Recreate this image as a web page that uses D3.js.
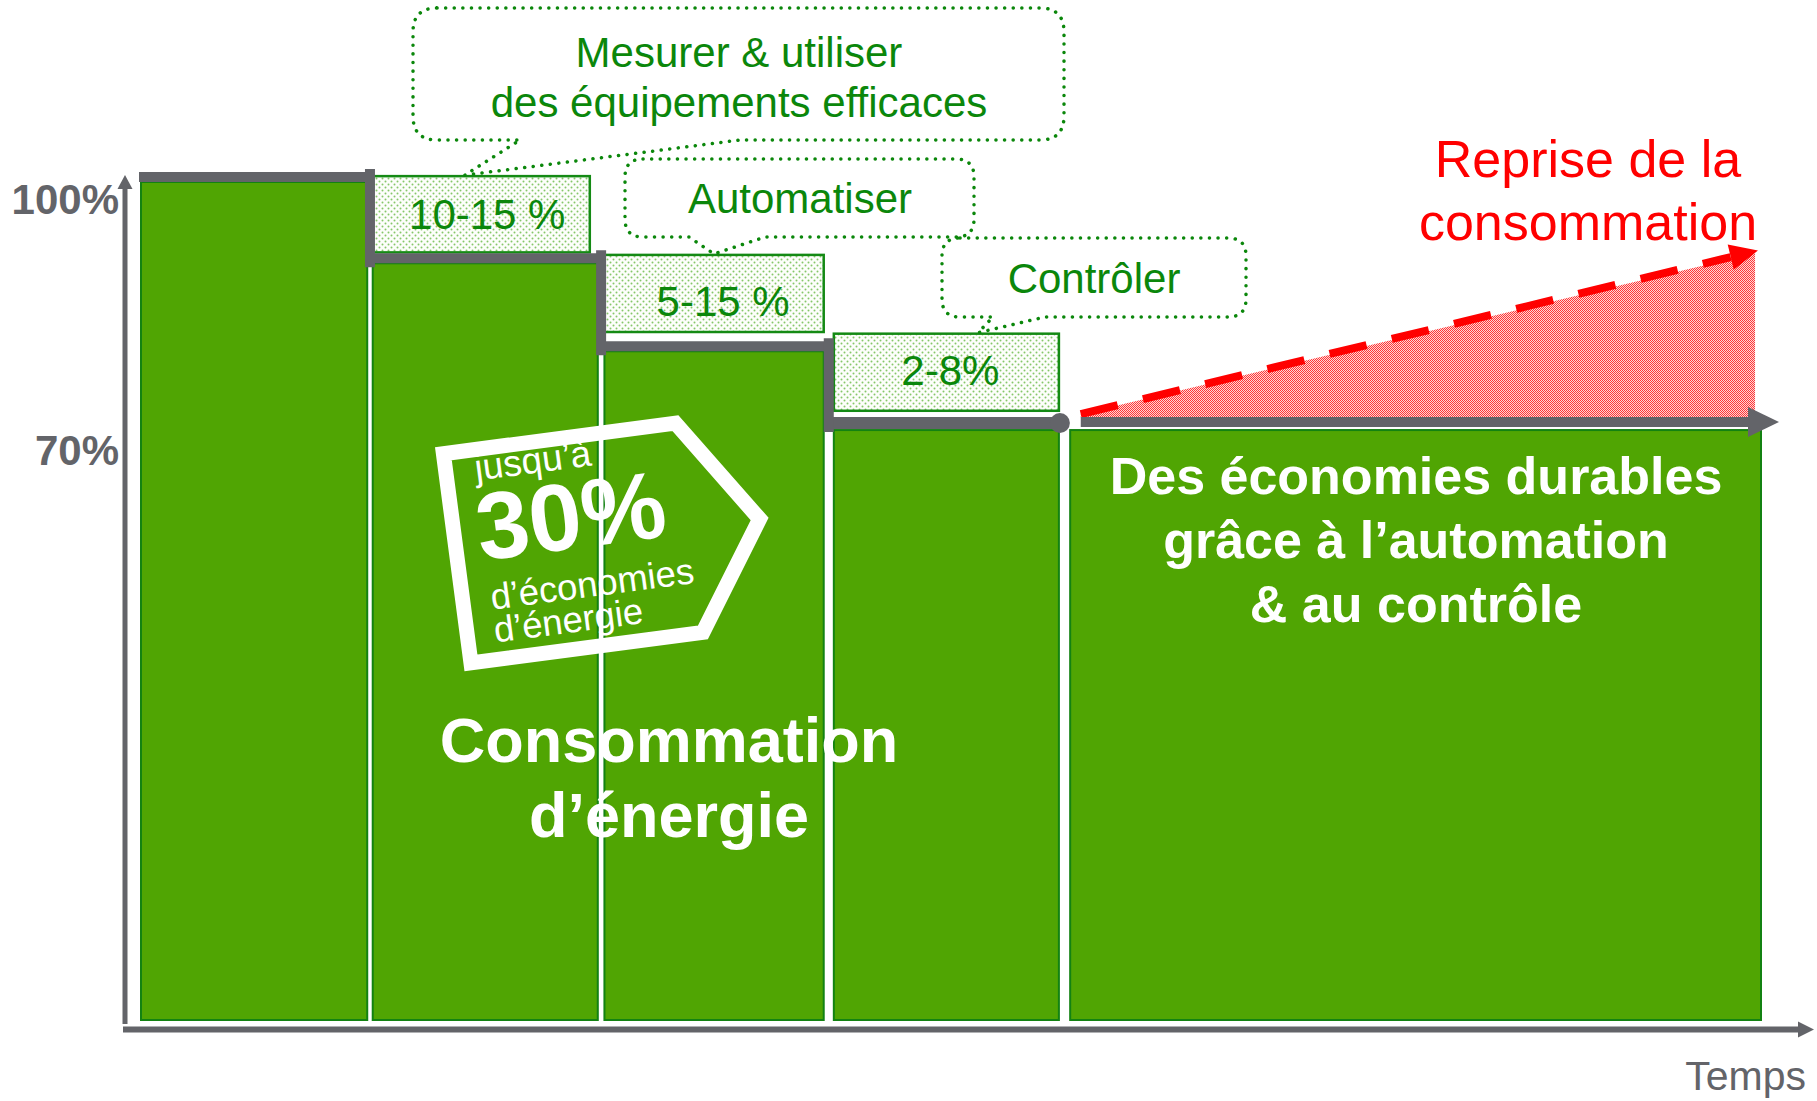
<!DOCTYPE html>
<html>
<head>
<meta charset="utf-8">
<script src="https://cdn.jsdelivr.net/npm/d3@7"></script>
<style>
  body { margin: 0; background: #fff; }
  svg text { font-family: "Liberation Sans", Arial, sans-serif; }
</style>
</head>
<body>
<script>
// Données du graphique
const periods = ["Référence", "Mesurer", "Automatiser", "Contrôler", "Durable"];
const periodStart = [0, 1, 2, 2.99, 4.01];
const periodEnd = [0.985, 1.98, 2.955, 3.97, 7];
const consumption = [100, 90.3, 79.8, 70.4, 70.4];

const savingLabels = ["10-15 %", "5-15 %", "2-8%"];
const savingTop = [100.7, 91.3, 81.9];
const savingBottom = [91.6, 82.1, 72.7];
const actionLines = [["Mesurer & utiliser", "des équipements efficaces"], ["Automatiser"], ["Contrôler"]];

const yTicks = [100, 70];
const yTickLabels = ["100%", "70%"];

const reboundTime = [4.06, 6.97];
const reboundValue = [72.3, 91.5];

// Mise en page
const width = 1817;
const height = 1101;
const green = "#50a503";
const darkGreen = "#138212";
const textGreen = "#0b870b";
const grey = "#636469";
const red = "#ff0000";
const labelShift = [[2, 15], [9, 23], [4, 13]]; // décalage des libellés dans les boîtes

const x = d3.scaleLinear().domain([0, 7]).range([140, 1762]);
const y = d3.scaleLinear().domain([0, 100]).range([1020, 182]);

const svg = d3.select("body").append("svg")
    .attr("width", width)
    .attr("height", height);

// Motifs (pointillés verts et rouges)
const defs = svg.append("defs");
const gp = defs.append("pattern")
    .attr("id", "dotsGreen")
    .attr("width", 6).attr("height", 6)
    .attr("patternUnits", "userSpaceOnUse");
gp.append("rect").attr("width", 6).attr("height", 6).attr("fill", "#fdfefb");
gp.append("circle").attr("cx", 1.5).attr("cy", 1.5).attr("r", 1).attr("fill", "#86c769");
gp.append("circle").attr("cx", 4.5).attr("cy", 4.5).attr("r", 1).attr("fill", "#86c769");

const rp = defs.append("pattern")
    .attr("id", "dotsRed")
    .attr("width", 2).attr("height", 2)
    .attr("patternUnits", "userSpaceOnUse");
rp.append("rect").attr("width", 2).attr("height", 2).attr("fill", "#ffd6d6");
rp.append("rect").attr("width", 1).attr("height", 1).attr("fill", "#ff3838");
rp.append("rect").attr("x", 1).attr("y", 1).attr("width", 1).attr("height", 1).attr("fill", "#ff3838");

// Barres de consommation
svg.selectAll(".bar")
    .data(periods)
    .enter().append("rect")
    .attr("class", "bar")
    .attr("x", (d, i) => x(periodStart[i]) + 1)
    .attr("y", (d, i) => y(consumption[i]))
    .attr("width", (d, i) => x(periodEnd[i]) - x(periodStart[i]) - 2)
    .attr("height", (d, i) => y(0) - y(consumption[i]))
    .attr("fill", green)
    .attr("stroke", darkGreen)
    .attr("stroke-width", 2);

// Boîtes d'économies
const boxes = svg.selectAll(".saving")
    .data(savingLabels)
    .enter().append("g")
    .attr("class", "saving");

boxes.append("rect")
    .attr("x", (d, i) => x(periodStart[i + 1]) + 1)
    .attr("y", (d, i) => y(savingTop[i]))
    .attr("width", (d, i) => x(periodEnd[i + 1]) - x(periodStart[i + 1]) - 2 - (i === 0 ? 8 : 0))
    .attr("height", (d, i) => y(savingBottom[i]) - y(savingTop[i]))
    .attr("fill", "url(#dotsGreen)")
    .attr("stroke", "#148a14")
    .attr("stroke-width", 2.5);

boxes.append("text")
    .attr("x", (d, i) => (x(periodStart[i + 1]) + x(periodEnd[i + 1])) / 2 + labelShift[i][0])
    .attr("y", (d, i) => (y(savingTop[i]) + y(savingBottom[i])) / 2 + labelShift[i][1])
    .attr("text-anchor", "middle")
    .attr("font-size", 42)
    .attr("fill", textGreen)
    .text(d => d);

// Ligne en escalier grise
const lineY = consumption.map((v, i) => y(v) - (i >= 3 ? 7 : 5));
const gapX = [0, 1, 2].map(i => x((periodEnd[i] + periodStart[i + 1]) / 2));
for (let i = 0; i < 4; i++) {
    const x0 = i === 0 ? x(periodStart[0]) - 1 : gapX[i - 1];
    const x1 = i === 3 ? x(periodEnd[3]) : gapX[i];
    svg.append("line")
        .attr("x1", x0).attr("x2", x1)
        .attr("y1", lineY[i]).attr("y2", lineY[i])
        .attr("stroke", grey)
        .attr("stroke-width", i === 3 ? 12 : 10);
}
gapX.forEach((gx, i) => {
    svg.append("line")
        .attr("x1", gx).attr("x2", gx)
        .attr("y1", lineY[i] - 8).attr("y2", lineY[i + 1] + 9)
        .attr("stroke", grey)
        .attr("stroke-width", 10);
});
svg.append("circle")
    .attr("cx", x(periodEnd[3]))
    .attr("cy", lineY[3])
    .attr("r", 10)
    .attr("fill", grey);

// Reprise de la consommation (zone rouge)
const r0 = [x(reboundTime[0]), y(reboundValue[0])];
const r1 = [x(reboundTime[1]), y(reboundValue[1])];
const baseY = y(consumption[4]) - 12;
svg.append("path")
    .attr("d", `M${r0[0]},${baseY} L${r0[0]},${r0[1]} L${r1[0]},${r1[1]} L${r1[0]},${baseY} Z`)
    .attr("fill", "url(#dotsRed)");

const ang = Math.atan2(r1[1] - r0[1], r1[0] - r0[0]);
const tip = [r1[0] + 3 * Math.cos(ang), r1[1] + 3 * Math.sin(ang) - 2];
const headLen = 28, headHalf = 13;
const hb = [tip[0] - headLen * Math.cos(ang), tip[1] - headLen * Math.sin(ang)];
svg.append("line")
    .attr("x1", r0[0]).attr("y1", r0[1])
    .attr("x2", hb[0]).attr("y2", hb[1])
    .attr("stroke", red)
    .attr("stroke-width", 8)
    .attr("stroke-dasharray", "38 26");
svg.append("path")
    .attr("d", `M${tip[0]},${tip[1]} L${hb[0] - headHalf * Math.sin(ang)},${hb[1] + headHalf * Math.cos(ang)} L${hb[0] + headHalf * Math.sin(ang)},${hb[1] - headHalf * Math.cos(ang)} Z`)
    .attr("fill", red);

// Flèche grise de la période durable
const arrowY = y(consumption[4]) - 8;
const arrowTip = x(periodEnd[4]) + 17;
svg.append("line")
    .attr("x1", x(reboundTime[0])).attr("x2", arrowTip - 30)
    .attr("y1", arrowY).attr("y2", arrowY)
    .attr("stroke", grey)
    .attr("stroke-width", 10);
svg.append("path")
    .attr("d", `M${arrowTip},${arrowY} L${arrowTip - 31},${arrowY - 15} L${arrowTip - 31},${arrowY + 15} Z`)
    .attr("fill", grey);

// Axes
const axisY = 1029.5;
svg.append("line")
    .attr("x1", 125).attr("x2", 125)
    .attr("y1", 1024).attr("y2", 186)
    .attr("stroke", grey).attr("stroke-width", 5);
svg.append("path")
    .attr("d", "M125,175 L117.5,189 L132.5,189 Z")
    .attr("fill", grey);
svg.append("line")
    .attr("x1", 123).attr("x2", 1800)
    .attr("y1", axisY).attr("y2", axisY)
    .attr("stroke", grey).attr("stroke-width", 6);
svg.append("path")
    .attr("d", `M1814,${axisY} L1798,${axisY - 8} L1798,${axisY + 8} Z`)
    .attr("fill", grey);

svg.selectAll(".ytick")
    .data(yTicks)
    .enter().append("text")
    .attr("class", "ytick")
    .attr("x", 119)
    .attr("y", d => y(d) + 32)
    .attr("text-anchor", "end")
    .attr("font-size", 42)
    .attr("font-weight", "bold")
    .attr("fill", grey)
    .text((d, i) => yTickLabels[i]);

svg.append("text")
    .attr("x", 1806).attr("y", 1090)
    .attr("text-anchor", "end")
    .attr("font-size", 41)
    .attr("fill", grey)
    .text("Temps");

// Bulles d'actions
const callouts = [
    { l: 413, r: 1064, t: 8, b: 140, rad: 24, a: 520, bx: 740, frac: 0.41, lines: [67, 117], cx: 739 },
    { l: 625, r: 974, t: 159, b: 237, rad: 18, a: 689, bx: 765, frac: 0.5, lines: [213], cx: 800 },
    { l: 942, r: 1246, t: 238, b: 317, rad: 18, a: 993, bx: 1045, frac: 0.64, lines: [293], cx: 1094 }
];
callouts.forEach((c, i) => {
    const bx0 = x(periodStart[i + 1]), bx1 = x(periodEnd[i + 1]);
    const tx = bx0 + (bx1 - bx0) * c.frac;
    const ty = y(savingTop[i]) - 1;
    const d = `M${c.l + c.rad},${c.t} H${c.r - c.rad} Q${c.r},${c.t} ${c.r},${c.t + c.rad}` +
        ` V${c.b - c.rad} Q${c.r},${c.b} ${c.r - c.rad},${c.b} H${c.bx} L${tx},${ty} L${c.a},${c.b}` +
        ` H${c.l + c.rad} Q${c.l},${c.b} ${c.l},${c.b - c.rad} V${c.t + c.rad} Q${c.l},${c.t} ${c.l + c.rad},${c.t} Z`;
    svg.append("path")
        .attr("d", d)
        .attr("fill", "none")
        .attr("stroke", textGreen)
        .attr("stroke-width", 3.5)
        .attr("stroke-linecap", "round")
        .attr("stroke-dasharray", "0.1 8.5");
    actionLines[i].forEach((txt, j) => {
        svg.append("text")
            .attr("x", c.cx).attr("y", c.lines[j])
            .attr("text-anchor", "middle")
            .attr("font-size", 42)
            .attr("fill", textGreen)
            .text(txt);
    });
});

// Texte rouge
["Reprise de la", "consommation"].forEach((t, j) => {
    svg.append("text")
        .attr("x", 1588).attr("y", 177 + j * 63)
        .attr("text-anchor", "middle")
        .attr("font-size", 52)
        .attr("fill", red)
        .text(t);
});

// Textes blancs sur les barres
["Des économies durables", "grâce à l’automation", "& au contrôle"].forEach((t, j) => {
    svg.append("text")
        .attr("x", 1416).attr("y", 494 + j * 64)
        .attr("text-anchor", "middle")
        .attr("font-size", 52)
        .attr("font-weight", "bold")
        .attr("fill", "#fff")
        .text(t);
});
["Consommation", "d’énergie"].forEach((t, j) => {
    svg.append("text")
        .attr("x", 669).attr("y", 762 + j * 75)
        .attr("text-anchor", "middle")
        .attr("font-size", 63)
        .attr("font-weight", "bold")
        .attr("fill", "#fff")
        .text(t);
});

// Étiquette "jusqu'à 30%"
const tag = svg.append("g").attr("transform", "translate(600,540) rotate(-7.5)");
tag.append("path")
    .attr("d", "M-144,-106 L90,-106 L161,0 L90,105 L-144,105 Z")
    .attr("fill", "none")
    .attr("stroke", "#fff")
    .attr("stroke-width", 15);
tag.append("text").attr("x", -115).attr("y", -75).attr("font-size", 37).attr("fill", "#fff").text("jusqu’à");
tag.append("text").attr("x", -121).attr("y", 5).attr("font-size", 95).attr("font-weight", "bold").attr("fill", "#fff").text("30%");
tag.append("text").attr("x", -116).attr("y", 55).attr("font-size", 36.5).attr("fill", "#fff").text("d’économies");
tag.append("text").attr("x", -117).attr("y", 88).attr("font-size", 36.5).attr("fill", "#fff").text("d’énergie");
</script>
</body>
</html>
